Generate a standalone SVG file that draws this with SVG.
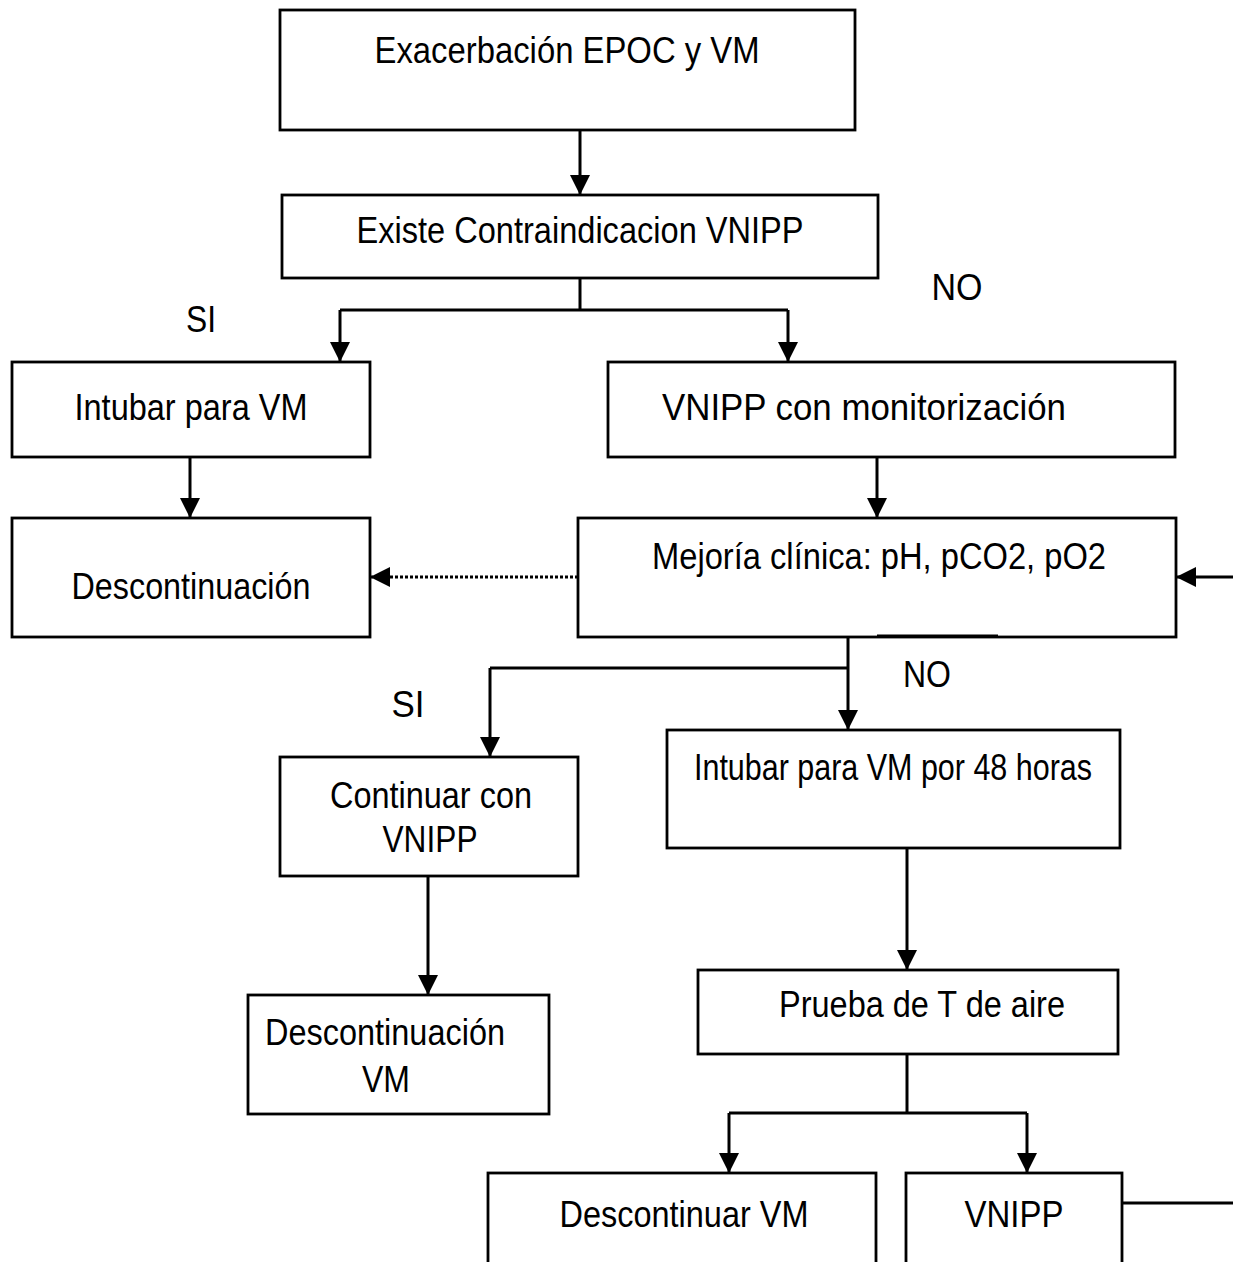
<svg xmlns="http://www.w3.org/2000/svg" width="1233" height="1262" viewBox="0 0 1233 1262">
  <style>
    .box { fill: #ffffff; stroke: #000000; stroke-width: 2.8; }
    .lbl { font-family: "Liberation Sans", Arial, sans-serif; font-size: 36px; fill: #000000; text-anchor: middle; }
    .wire { fill: none; stroke: #000000; stroke-width: 3; }
    .dot { fill: none; stroke: #000000; stroke-width: 3; stroke-dasharray: 3 2; }
  </style>
  <defs>
    <marker id="head" viewBox="0 0 20 20" refX="20" refY="10" markerWidth="20" markerHeight="20" markerUnits="userSpaceOnUse" orient="auto">
      <path d="M0,0 L20,10 L0,20 Z" fill="#000000"/>
    </marker>
  </defs>
  <rect width="1233" height="1262" fill="#ffffff"/>

  <g id="n-exacerbacion">
    <rect class="box" x="280" y="10" width="575" height="120"/>
    <text class="lbl" x="567" y="63" textLength="385" lengthAdjust="spacingAndGlyphs">Exacerbación EPOC y VM</text>
  </g>
  <g id="n-contraindicacion">
    <rect class="box" x="282" y="195" width="596" height="83"/>
    <text class="lbl" x="580" y="243" textLength="447" lengthAdjust="spacingAndGlyphs">Existe Contraindicacion VNIPP</text>
  </g>
  <g id="n-intubar">
    <rect class="box" x="12" y="362" width="358" height="95"/>
    <text class="lbl" x="191" y="420" textLength="233" lengthAdjust="spacingAndGlyphs">Intubar para VM</text>
  </g>
  <g id="n-vnipp-monitor">
    <rect class="box" x="608" y="362" width="567" height="95"/>
    <text class="lbl" x="864" y="420" textLength="404" lengthAdjust="spacingAndGlyphs">VNIPP con monitorización</text>
  </g>
  <g id="n-descontinuacion">
    <rect class="box" x="12" y="518" width="358" height="119"/>
    <text class="lbl" x="191" y="599" textLength="239" lengthAdjust="spacingAndGlyphs">Descontinuación</text>
  </g>
  <g id="n-mejoria">
    <rect class="box" x="578" y="518" width="598" height="119"/>
    <text class="lbl" x="879" y="569" textLength="454" lengthAdjust="spacingAndGlyphs">Mejoría clínica: pH, pCO2, pO2</text>
  </g>
  <g id="n-continuar">
    <rect class="box" x="280" y="757" width="298" height="119"/>
    <text class="lbl" x="431" y="808" textLength="202" lengthAdjust="spacingAndGlyphs">Continuar con</text>
    <text class="lbl" x="430" y="852" textLength="95" lengthAdjust="spacingAndGlyphs">VNIPP</text>
  </g>
  <g id="n-intubar48">
    <rect class="box" x="667" y="730" width="453" height="118"/>
    <text class="lbl" x="893" y="780" textLength="398" lengthAdjust="spacingAndGlyphs">Intubar para VM por 48 horas</text>
  </g>
  <g id="n-descontinuacion-vm">
    <rect class="box" x="248" y="995" width="301" height="119"/>
    <text class="lbl" x="385" y="1045" textLength="240" lengthAdjust="spacingAndGlyphs">Descontinuación</text>
    <text class="lbl" x="386" y="1092" textLength="48" lengthAdjust="spacingAndGlyphs">VM</text>
  </g>
  <g id="n-prueba">
    <rect class="box" x="698" y="970" width="420" height="84"/>
    <text class="lbl" x="922" y="1017" textLength="286" lengthAdjust="spacingAndGlyphs">Prueba de T de aire</text>
  </g>
  <g id="n-descontinuar">
    <rect class="box" x="488" y="1173" width="388" height="100"/>
    <text class="lbl" x="684" y="1227" textLength="249" lengthAdjust="spacingAndGlyphs">Descontinuar VM</text>
  </g>
  <g id="n-vnipp">
    <rect class="box" x="906" y="1173" width="216" height="100"/>
    <text class="lbl" x="1014" y="1227" textLength="99" lengthAdjust="spacingAndGlyphs">VNIPP</text>
  </g>

  <g id="labels">
    <text class="lbl" x="201" y="332" textLength="30" lengthAdjust="spacingAndGlyphs">SI</text>
    <text class="lbl" x="957" y="300" textLength="51" lengthAdjust="spacingAndGlyphs">NO</text>
    <text class="lbl" x="927" y="687" textLength="48" lengthAdjust="spacingAndGlyphs">NO</text>
    <text class="lbl" x="408" y="717" textLength="33" lengthAdjust="spacingAndGlyphs">SI</text>
  </g>

  <g id="connectors">
    <path class="wire" d="M580,130 V195" marker-end="url(#head)"/>
    <path class="wire" d="M580,278 V310"/>
    <path class="wire" d="M340,310 H788"/>
    <path class="wire" d="M340,310 V362" marker-end="url(#head)"/>
    <path class="wire" d="M788,310 V362" marker-end="url(#head)"/>
    <path class="wire" d="M190,457 V518" marker-end="url(#head)"/>
    <path class="wire" d="M877,457 V518" marker-end="url(#head)"/>
    <path class="dot" d="M578,577 H370" marker-end="url(#head)"/>
    <path class="wire" d="M1233,577 H1176" marker-end="url(#head)"/>
    <path class="wire" d="M877,636 H998"/>
    <path class="wire" d="M848,637 V730" marker-end="url(#head)"/>
    <path class="wire" d="M490,668 H848"/>
    <path class="wire" d="M490,668 V757" marker-end="url(#head)"/>
    <path class="wire" d="M428,876 V995" marker-end="url(#head)"/>
    <path class="wire" d="M907,848 V970" marker-end="url(#head)"/>
    <path class="wire" d="M907,1054 V1113"/>
    <path class="wire" d="M729,1113 H1027"/>
    <path class="wire" d="M729,1113 V1173" marker-end="url(#head)"/>
    <path class="wire" d="M1027,1113 V1173" marker-end="url(#head)"/>
    <path class="wire" d="M1122,1203 H1233"/>
  </g>
</svg>
